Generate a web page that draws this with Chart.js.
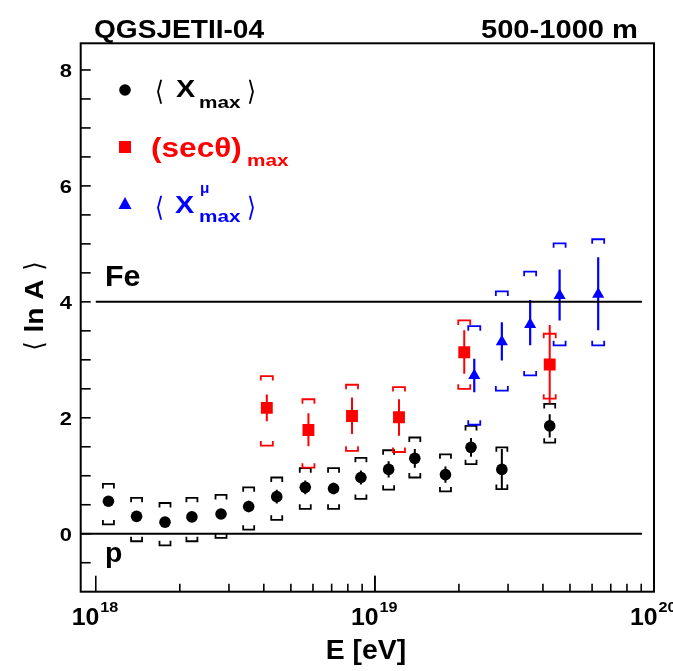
<!DOCTYPE html>
<html>
<head>
<meta charset="utf-8">
<script src="https://cdn.jsdelivr.net/npm/chart.js@4.4.0/dist/chart.umd.min.js"></script>
<style>
  html, body { margin: 0; padding: 0; background: #fff; }
  #wrap { position: relative; width: 673px; height: 671px; }
</style>
</head>
<body>
<div id="wrap"><canvas id="c" width="673" height="671"></canvas></div>
<script>
// <lnA> from <Xmax>
const eXmax     = [1.11e18, 1.40e18, 1.77e18, 2.21e18, 2.81e18, 3.53e18, 4.45e18, 5.63e18, 7.11e18, 8.91e18, 1.12e19, 1.39e19, 1.79e19, 2.21e19, 2.85e19, 4.23e19];
const lnaXmax   = [0.56, 0.30, 0.20, 0.29, 0.34, 0.47, 0.64, 0.80, 0.78, 0.97, 1.11, 1.30, 1.02, 1.49, 1.11, 1.86];
const statXmax  = [0.06, 0.06, 0.06, 0.06, 0.06, 0.10, 0.12, 0.12, 0.10, 0.12, 0.14, 0.16, 0.14, 0.16, 0.35, 0.20];
const sysHiXmax = [0.86, 0.62, 0.53, 0.62, 0.67, 0.80, 0.97, 1.13, 1.13, 1.31, 1.44, 1.66, 1.37, 1.86, 1.49, 2.24];
const sysLoXmax = [0.16, -0.13, -0.20, -0.13, -0.07, 0.07, 0.24, 0.43, 0.43, 0.60, 0.76, 0.97, 0.73, 1.20, 0.77, 1.57];

// <lnA> from (sec theta)max
const eSec      = [4.10e18, 5.78e18, 8.28e18, 1.22e19, 2.09e19, 4.23e19];
const lnaSec    = [2.17, 1.79, 2.03, 2.01, 3.13, 2.92];
const statHiSec = [2.40, 2.08, 2.35, 2.32, 3.51, 3.60];
const statLoSec = [1.94, 1.51, 1.72, 1.69, 2.76, 2.25];
const sysHiSec  = [2.72, 2.32, 2.57, 2.53, 3.68, 3.45];
const sysLoSec  = [1.52, 1.14, 1.43, 1.41, 2.50, 2.33];

// <lnA> from <Xmax mu>
const eMu       = [2.27e19, 2.85e19, 3.60e19, 4.59e19, 6.31e19];
const lnaMu     = [2.73, 3.31, 3.61, 4.11, 4.13];
const statHiMu  = [3.02, 3.65, 4.03, 4.56, 4.77];
const statLoMu  = [2.44, 2.99, 3.25, 3.68, 3.51];
const sysHiMu   = [3.58, 4.18, 4.52, 5.01, 5.08];
const sysLoMu   = [1.88, 2.47, 2.73, 3.25, 3.25];

// reference lines (p and Fe)
const lineP  = { x: [8.83e17, 9.05e19], y: [0, 0] };
const lineFe = { x: [1.0e18, 9.05e19], y: [4, 4] };

const xMin = 8.83e17, xMax = 1e20;
const yMin = -1, yMax = 8.46;
const yTickStep = 0.5;
const yLabelVals = [0, 2, 4, 6, 8];
const xLabelExp = [18, 19, 20];

const FONT = '"Liberation Sans", Arial, "DejaVu Sans", sans-serif';

function pts(xs, ys) { return xs.map((x, i) => ({ x, y: ys[i] })); }

function txt(ctx, s, x, y, size, color, o = {}) {
  ctx.save();
  ctx.font = `${o.weight || 'bold'} ${size}px ${FONT}`;
  ctx.fillStyle = color;
  ctx.textBaseline = 'alphabetic';
  ctx.textAlign = o.align || 'left';
  ctx.translate(x, y);
  if (o.rot) ctx.rotate(o.rot);
  ctx.scale(o.sx || 1.08, 1);
  ctx.fillText(s, 0, 0);
  ctx.restore();
}

// stat bars + systematic brackets
const errorBars = {
  id: 'errorBars',
  beforeDatasetsDraw(chart) {
    const { ctx, chartArea: a, scales: { x, y } } = chart;
    ctx.save();
    ctx.beginPath();
    ctx.rect(a.left, a.top, a.right - a.left, a.bottom - a.top);
    ctx.clip();

    function bracket(px, v, up, color, hw) {
      const py = y.getPixelForValue(v);
      const leg = up ? 4.5 : -4.5;
      ctx.strokeStyle = color;
      ctx.lineWidth = 1.8;
      ctx.beginPath();
      ctx.moveTo(px - hw, py + leg);
      ctx.lineTo(px - hw, py);
      ctx.lineTo(px + hw, py);
      ctx.lineTo(px + hw, py + leg);
      ctx.stroke();
    }
    function stat(px, lo, hi, color, lw) {
      ctx.strokeStyle = color;
      ctx.lineWidth = lw;
      ctx.beginPath();
      ctx.moveTo(px, y.getPixelForValue(lo));
      ctx.lineTo(px, y.getPixelForValue(hi));
      ctx.stroke();
    }

    eXmax.forEach((e, i) => {
      const px = x.getPixelForValue(e);
      stat(px, lnaXmax[i] - statXmax[i], lnaXmax[i] + statXmax[i], '#000', 2);
      bracket(px, sysHiXmax[i], true, '#000', 5.5);
      bracket(px, sysLoXmax[i], false, '#000', 5.5);
    });
    eSec.forEach((e, i) => {
      const px = x.getPixelForValue(e);
      stat(px, statLoSec[i], statHiSec[i], '#ff0000', 2);
      bracket(px, sysHiSec[i], true, '#ff0000', 6);
      bracket(px, sysLoSec[i], false, '#ff0000', 6);
    });
    eMu.forEach((e, i) => {
      const px = x.getPixelForValue(e);
      stat(px, statLoMu[i], statHiMu[i], '#0000ff', 2.2);
      bracket(px, sysHiMu[i], true, '#0000ff', 6);
      bracket(px, sysLoMu[i], false, '#0000ff', 6);
    });
    ctx.restore();
  }
};

// frame, ticks, labels, legend
const decor = {
  id: 'decor',
  afterDraw(chart) {
    const { ctx, chartArea: a, scales: { x, y } } = chart;
    ctx.save();
    ctx.strokeStyle = '#000';
    ctx.lineWidth = 2;
    ctx.strokeRect(a.left, a.top, a.right - a.left, a.bottom - a.top);

    // y ticks (inward)
    ctx.lineWidth = 1.6;
    for (let v = Math.ceil(yMin / yTickStep) * yTickStep; v <= yMax; v += yTickStep) {
      const py = y.getPixelForValue(v);
      if (py > a.bottom - 1) continue;
      ctx.beginPath(); ctx.moveTo(a.left, py); ctx.lineTo(a.left + 10, py); ctx.stroke();
    }
    // x ticks (inward)
    for (let d = 18; d <= 19; d++) {
      for (let m = 1; m <= 10; m++) {
        const px = x.getPixelForValue(m * Math.pow(10, d));
        const len = (m === 1 || m === 10) ? 16 : 8;
        ctx.beginPath(); ctx.moveTo(px, a.bottom); ctx.lineTo(px, a.bottom - len); ctx.stroke();
      }
    }
    ctx.restore();

    yLabelVals.forEach(v => txt(ctx, String(v), 72, y.getPixelForValue(v) + 7, 19, '#000', { align: 'right', sx: 1.15 }));
    xLabelExp.forEach(d => {
      const px = x.getPixelForValue(Math.pow(10, d));
      txt(ctx, '10', px - 24, 625, 23, '#000', { sx: 1.08 });
      txt(ctx, String(d), px + 4.5, 612, 15, '#000', { sx: 1.08 });
    });

    txt(ctx, 'QGSJETII-04', 94, 38, 26, '#000', { sx: 1.08 });
    txt(ctx, '500-1000 m', 638, 38, 26, '#000', { align: 'right', sx: 1.12 });
    txt(ctx, 'E [eV]', 366, 659, 27, '#000', { align: 'center', sx: 1.05 });

    // y title, thin angle brackets
    ctx.save();
    ctx.translate(43, 306);
    ctx.rotate(-Math.PI / 2);
    txt(ctx, '\u27E8', -40, 0, 26, '#000', { weight: 'normal', align: 'center', sx: 0.9 });
    txt(ctx, 'ln A', 0, 0, 26, '#000', { align: 'center', sx: 1.08 });
    txt(ctx, '\u27E9', 40, 0, 26, '#000', { weight: 'normal', align: 'center', sx: 0.9 });
    ctx.restore();

    txt(ctx, 'Fe', 105, 286, 29, '#000', { sx: 1.05 });
    txt(ctx, 'p', 105, 562, 27, '#000', { sx: 1.05 });

    // legend
    ctx.save();
    ctx.fillStyle = '#000';
    ctx.beginPath(); ctx.arc(125, 90, 5.8, 0, Math.PI * 2); ctx.fill();
    ctx.fillStyle = '#ff0000';
    ctx.fillRect(119, 141, 12, 12);
    ctx.fillStyle = '#0000ff';
    ctx.beginPath(); ctx.moveTo(125, 197); ctx.lineTo(131.5, 209); ctx.lineTo(118.5, 209); ctx.closePath(); ctx.fill();
    ctx.restore();

    txt(ctx, '\u27E8', 155, 100, 27, '#000', { weight: 'normal', sx: 0.85 });
    txt(ctx, 'X', 176, 97, 24, '#000', { sx: 1.2 });
    txt(ctx, 'max', 199, 108, 17, '#000', { sx: 1.22 });
    txt(ctx, '\u27E9', 247, 100, 27, '#000', { weight: 'normal', sx: 0.85 });

    txt(ctx, '(sec\u03B8)', 151, 157, 27, '#ff0000', { sx: 1.17 });
    txt(ctx, 'max', 247, 166, 17, '#ff0000', { sx: 1.22 });

    txt(ctx, '\u27E8', 155, 216, 27, '#0000ff', { weight: 'normal', sx: 0.85 });
    txt(ctx, 'X', 175, 213, 24, '#0000ff', { sx: 1.2 });
    txt(ctx, '\u03BC', 200, 193, 14, '#0000ff', { sx: 1.1 });
    txt(ctx, 'max', 199, 222, 17, '#0000ff', { sx: 1.22 });
    txt(ctx, '\u27E9', 247, 216, 27, '#0000ff', { weight: 'normal', sx: 0.85 });
  }
};

new Chart(document.getElementById('c'), {
  type: 'scatter',
  data: {
    datasets: [
      { label: 'Xmax', data: pts(eXmax, lnaXmax), pointStyle: 'circle', pointRadius: 5.8, backgroundColor: '#000', borderWidth: 0 },
      { label: 'sec', data: pts(eSec, lnaSec), pointStyle: 'rect', pointRadius: 8.4, backgroundColor: '#ff0000', borderWidth: 0 },
      { label: 'Xmu', data: pts(eMu, lnaMu), pointStyle: 'triangle', pointRadius: 7, backgroundColor: '#0000ff', borderWidth: 0 },
      { label: 'p', data: pts(lineP.x, lineP.y), showLine: true, pointRadius: 0, borderColor: '#000', borderWidth: 2 },
      { label: 'Fe', data: pts(lineFe.x, lineFe.y), showLine: true, pointRadius: 0, borderColor: '#000', borderWidth: 2 }
    ]
  },
  options: {
    responsive: false,
    animation: false,
    events: [],
    layout: { padding: { left: 80.7, top: 43.3, right: 19, bottom: 79.3 } },
    scales: {
      x: { type: 'logarithmic', min: xMin, max: xMax, display: false },
      y: { type: 'linear', min: yMin, max: yMax, display: false }
    },
    plugins: { legend: { display: false }, tooltip: { enabled: false } }
  },
  plugins: [errorBars, decor]
});
</script>
</body>
</html>
